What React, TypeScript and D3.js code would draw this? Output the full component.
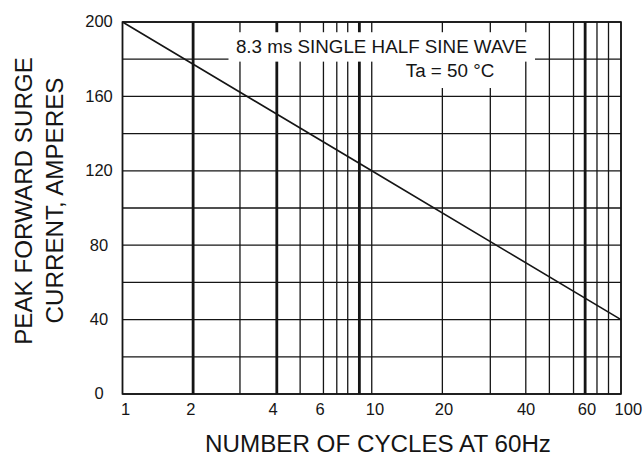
import React from 'react'
import * as d3 from 'd3'

const width = 643
const height = 456
const margin = { top: 22, right: 22, bottom: 62, left: 122.5 }

// x grid lines (cycles), positions as read from the sheet
const gridCycles = [1, 1.92, 2.96, 4.16, 5.16, 6.4, 7.24, 8.01, 8.92, 10, 19.2, 29.9, 41.5, 51.6, 64.5, 71.8, 80.1, 89.1, 100]
const heavyCycles = [1.92, 4.16, 8.92, 71.8]
const gridAmps = [0, 20, 40, 60, 80, 100, 120, 140, 160, 180, 200]

const tickLabels = ['1', '2', '4', '6', '10', '20', '40', '60', '100']
const tickAt = [1.03, 1.88, 4.02, 6.2, 10.3, 19.5, 41.6, 73, 107]
const ampTicks = [0, 40, 80, 120, 160, 200]

// surge curve
const cycles = [1, 10, 100]
const amps = [200, 120, 40]

const font = '"Liberation Sans", Arial, sans-serif'
const ink = '#151515'

export default function App() {
  const x = d3.scaleLog().domain([1, 100]).range([margin.left, width - margin.right])
  const y = d3.scaleLinear().domain([0, 200]).range([height - margin.bottom, margin.top])
  const line = d3.line<number>().x((d, i) => x(cycles[i])).y(d => y(d))

  return (
    <svg width={width} height={height} style={{ position: 'absolute', left: 0, top: 0, background: '#fff' }}>
      {/* grid */}
      {gridAmps.map(a => (
        <line key={'h' + a} x1={x(1)} x2={x(100)} y1={y(a)} y2={y(a)} stroke={ink} strokeWidth={1.3} />
      ))}
      {gridCycles.map(c => (
        <line key={'v' + c} x1={x(c)} x2={x(c)} y1={y(0)} y2={y(200)} stroke={ink}
          strokeWidth={heavyCycles.includes(c) ? 2.8 : 1.3} />
      ))}

      {/* white label boxes */}
      <rect x={228.5} y={y(194.5)} width={306.5} height={y(179.5) - y(194.5) + 1.5} fill="#fff" />
      <rect x={396} y={y(180)} width={108} height={y(164.5) - y(180)} fill="#fff" />
      <text x={381.5} y={52.8} textAnchor="middle" fontFamily={font} fontSize={18.8} fill={ink}>
        8.3 ms SINGLE HALF SINE WAVE
      </text>
      <text x={450} y={76.8} textAnchor="middle" fontFamily={font} fontSize={18.8} fill={ink}>
        Ta = 50 °C
      </text>

      {/* frame */}
      <rect x={x(1)} y={y(200)} width={x(100) - x(1)} height={y(0) - y(200)} fill="none" stroke={ink} strokeWidth={1.6} />

      {/* curve */}
      <path d={line(amps) || ''} fill="none" stroke={ink} strokeWidth={1.6} />

      {/* tick labels */}
      {tickLabels.map((t, i) => (
        <text key={t} x={x(tickAt[i])} y={415} textAnchor="middle" fontFamily={font} fontSize={16.5} fill={ink}>{t}</text>
      ))}
      {ampTicks.map(a => (
        <text key={a} x={99} y={y(a)} dy="0.33em" textAnchor="middle" fontFamily={font} fontSize={16.5} fill={ink}>{a}</text>
      ))}

      {/* axis titles */}
      <text x={378} y={451.5} textAnchor="middle" fontFamily={font} fontSize={24.2} fill={ink}>
        NUMBER OF CYCLES AT 60Hz
      </text>
      <text transform="translate(31.5,201) rotate(-90)" textAnchor="middle" fontFamily={font} fontSize={24.2} fill={ink}>
        PEAK FORWARD SURGE
      </text>
      <text transform="translate(63.3,200.5) rotate(-90)" textAnchor="middle" fontFamily={font} fontSize={24.2} fill={ink}>
        CURRENT, AMPERES
      </text>
    </svg>
  )
}
